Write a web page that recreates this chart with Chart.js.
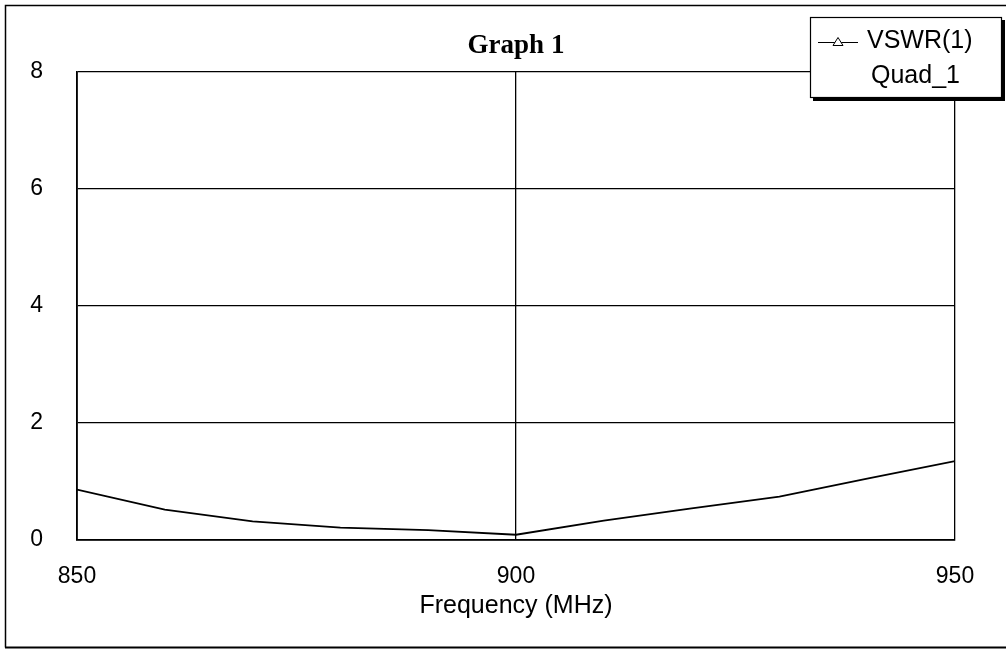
<!DOCTYPE html>
<html>
<head>
<meta charset="utf-8">
<script src="https://cdn.jsdelivr.net/npm/chart.js@4/dist/chart.umd.min.js"></script>
<style>
  html, body { margin: 0; padding: 0; background: #fff; }
  #wrap { width: 1006px; height: 650px; position: relative; }
</style>
</head>
<body>
<div id="wrap"><canvas id="c" width="1006" height="650"></canvas></div>
<script>
// ---- data ----
const freqs = [850, 860, 870, 880, 890, 900, 910, 920, 930, 940, 950];
const vswr  = [0.86, 0.52, 0.32, 0.21, 0.17, 0.09, 0.33, 0.54, 0.74, 1.05, 1.35];
const xTicks = [850, 900, 950];
const yTicks = [0, 2, 4, 6, 8];
const chartTitle = 'Graph 1';
const xTitle = 'Frequency (MHz)';
const seriesName = 'VSWR(1)';
const seriesSub = 'Quad_1';

const framePlugin = {
  id: 'frame',
  beforeDraw(chart) {
    const ctx = chart.ctx;
    ctx.save();
    ctx.fillStyle = '#fff';
    ctx.fillRect(0, 0, chart.width, chart.height);
    ctx.strokeStyle = '#000';
    ctx.lineWidth = 1.5;
    ctx.beginPath();
    ctx.moveTo(1006, 5.5); ctx.lineTo(5.5, 5.5); ctx.lineTo(5.5, 647.5);
    ctx.stroke();
    ctx.lineWidth = 2;
    ctx.beginPath();
    ctx.moveTo(5, 647.5); ctx.lineTo(1006, 647.5);
    ctx.stroke();
    ctx.restore();
  }
};

const legendBoxPlugin = {
  id: 'legendBox',
  afterDraw(chart) {
    const ctx = chart.ctx;
    const ds = chart.data.datasets[0];
    ctx.save();
    // shadow
    ctx.fillStyle = '#000';
    ctx.fillRect(813, 20, 192, 81);
    // box
    ctx.fillStyle = '#fff';
    ctx.fillRect(810, 17, 192, 81);
    ctx.strokeStyle = '#000';
    ctx.lineWidth = 1.2;
    ctx.strokeRect(810.5, 17.5, 191, 80);
    // symbol
    ctx.lineWidth = 1;
    ctx.beginPath();
    ctx.moveTo(818, 42.5); ctx.lineTo(858, 42.5);
    ctx.stroke();
    ctx.beginPath();
    ctx.moveTo(833, 45.5); ctx.lineTo(843, 45.5); ctx.lineTo(838, 37.5); ctx.closePath();
    ctx.fillStyle = '#fff';
    ctx.fill();
    ctx.stroke();
    // text
    ctx.fillStyle = '#000';
    ctx.font = '25px "Liberation Sans", Arial, sans-serif';
    ctx.textBaseline = 'alphabetic';
    ctx.textAlign = 'left';
    ctx.fillText(ds.label, 867, 48);
    ctx.fillText(seriesSub, 871, 83);
    ctx.restore();
  }
};

new Chart(document.getElementById('c'), {
  type: 'line',
  data: {
    datasets: [{
      label: seriesName,
      data: freqs.map((f, i) => ({ x: f, y: vswr[i] })),
      borderColor: '#000',
      borderWidth: 1.8,
      pointRadius: 0,
      tension: 0,
      fill: false
    }]
  },
  options: {
    responsive: false,
    animation: false,
    devicePixelRatio: 1,
    layout: { padding: { left: 0, top: 0, right: 51, bottom: 0 } },
    plugins: {
      legend: { display: false },
      tooltip: { enabled: false },
      title: {
        display: true,
        text: chartTitle,
        fullSize: false,
        color: '#000',
        font: { family: '"Liberation Serif", "Times New Roman", serif', size: 27, weight: 'bold', lineHeight: 1.2 },
        padding: { top: 29.8, bottom: 9.8 }
      }
    },
    scales: {
      x: {
        type: 'linear',
        min: 850, max: 950,
        afterBuildTicks(scale) { scale.ticks = xTicks.map(v => ({ value: v })); },
        afterFit(scale) { scale.height = 110; },
        grid: { color: '#000', lineWidth: 1.3, drawTicks: false },
        border: { color: '#000', width: 1.8 },
        ticks: {
          color: '#000', padding: 23, maxRotation: 0, autoSkip: false,
          font: { family: '"Liberation Sans", Arial, sans-serif', size: 23 }
        },
        title: {
          display: true, text: xTitle, color: '#000',
          font: { family: '"Liberation Sans", Arial, sans-serif', size: 25, lineHeight: 1.2 },
          padding: { top: 0, bottom: 29 }
        }
      },
      y: {
        type: 'linear',
        min: 0, max: 8,
        afterBuildTicks(scale) { scale.ticks = yTicks.map(v => ({ value: v })); },
        afterFit(scale) { scale.width = 77; },
        grid: { color: '#000', lineWidth: 1.3, drawTicks: false },
        border: { color: '#000', width: 1.8 },
        ticks: {
          color: '#000', padding: 34,
          font: { family: '"Liberation Sans", Arial, sans-serif', size: 23 }
        }
      }
    }
  },
  plugins: [framePlugin, legendBoxPlugin]
});
</script>
</body>
</html>
